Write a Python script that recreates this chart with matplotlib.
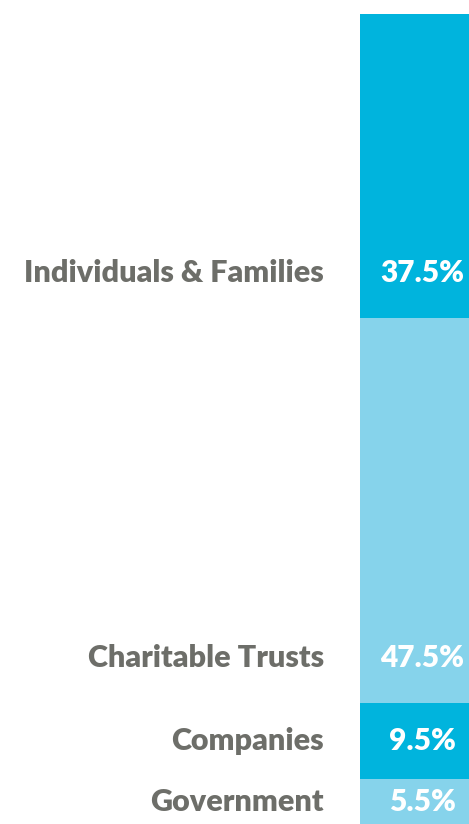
import matplotlib.pyplot as plt

# Funding sources, bottom to top of the stacked bar
sources = ["Government", "Companies", "Charitable Trusts", "Individuals & Families"]
shares = [5.5, 9.5, 47.5, 37.5]
colors = ["#86d3eb", "#00b4dd", "#86d3eb", "#00b4dd"]

label_color = "#6d6e69"
font = "Lato"

fig = plt.figure(figsize=(4.69, 8.24), dpi=100)
ax = fig.add_axes([360 / 469, 0, 130 / 469, 810 / 824])
ax.set_xlim(0, 1)
ax.set_ylim(0, 100)
ax.axis("off")

bottom = 0
for name, val, col in zip(sources, shares, colors):
    ax.bar(0.5, val, width=1, bottom=bottom, color=col, edgecolor="none")
    y = bottom + min(val / 2, 5.5)
    ax.text(0.48, y, f"{val}%", ha="center", va="center", color="white",
            fontsize=21.5, fontweight="heavy", family=font)
    # category label to the left of the bar
    ax.text(-36 / 130, y, name, ha="right", va="center", color=label_color,
            fontsize=22, fontweight="heavy", family=font, clip_on=False)
    bottom += val

fig.savefig("out.png", dpi=100)
